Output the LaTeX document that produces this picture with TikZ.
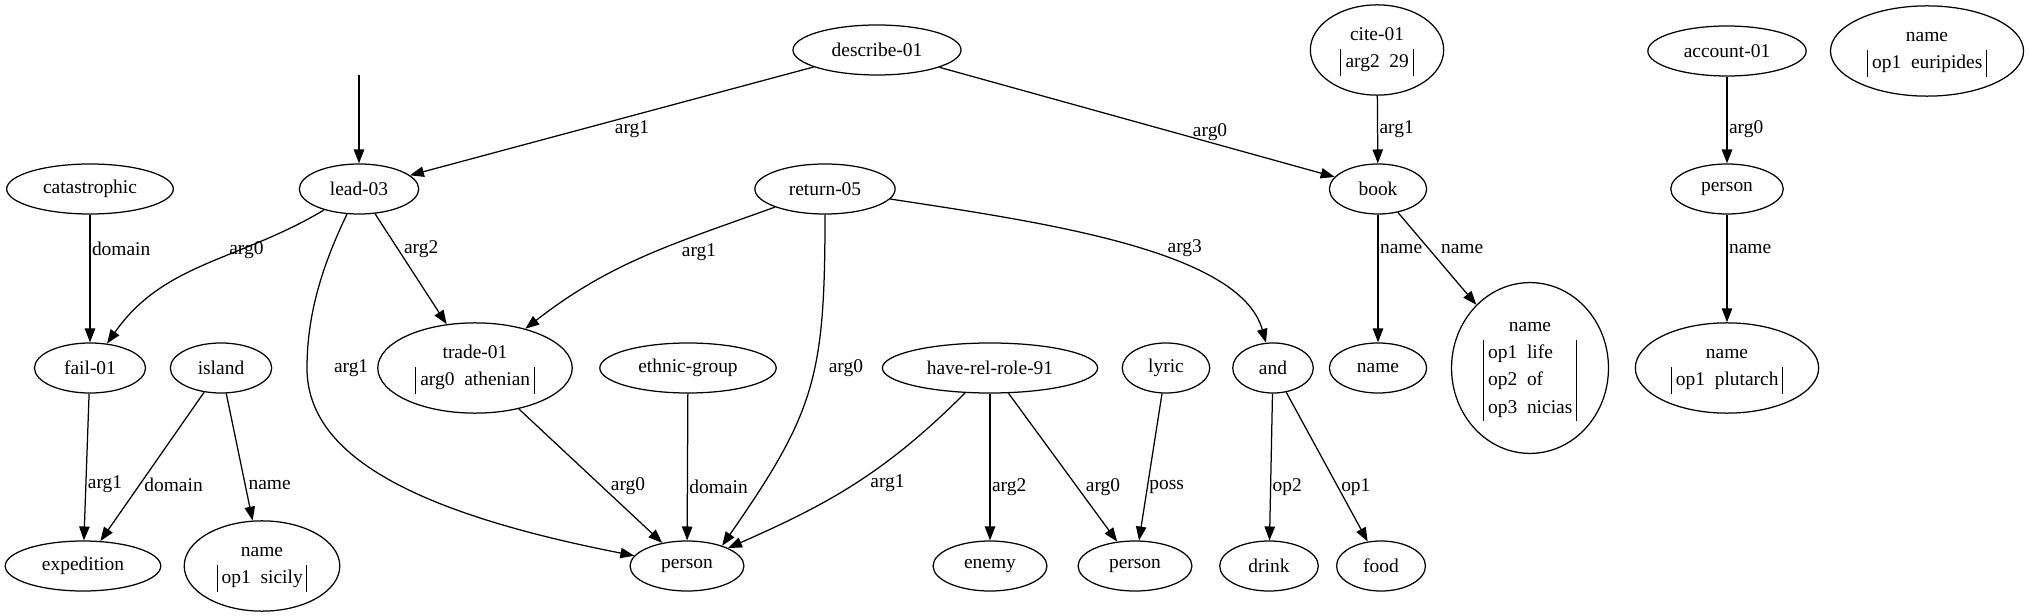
\documentclass[tikz,border=0pt]{standalone}
\usepackage{fontspec}
\setmainfont{Liberation Serif}
\usetikzlibrary{shapes.geometric, arrows.meta, positioning}
\renewcommand{\arraystretch}{1.15}
\setlength{\arrayrulewidth}{0.7pt}
\newcommand{\attrbox}[2]{\strut#1\\\begin{tabular}[t]{|@{\hspace{3pt}}l@{\hspace{7pt}}l@{\hspace{3pt}}|}#2\end{tabular}}

\begin{document}
\begin{tikzpicture}[
  x=0.72pt, y=-0.72pt,
  >={Triangle[length=10pt, width=7.5pt]},
  every node/.style={font=\fontsize{14}{17}\selectfont, align=center},
  concept/.style={draw, ellipse, line width=0.9pt, inner sep=0pt, minimum height=36pt},
  tall/.style={minimum height=65pt},
  rel/.style={->, line width=0.9pt},
  lbl/.style={inner sep=1pt}
]
\useasboundingbox (0,0) rectangle (2029,616);

% Top row
\node[concept, minimum width=121pt] (desc) at (877,50) {describe-01};
\node[concept, tall, minimum width=96pt] (cite) at (1377,50) {\attrbox{cite-01}{arg2 & 29}};
\node[concept, minimum width=114pt] (acct) at (1727,51) {account-01};
\node[concept, tall, minimum width=139pt] (eurip) at (1927,51) {\attrbox{name}{op1 & euripides}};
\coordinate (top) at (359,75);

% Second row
\node[concept, minimum width=120pt] (cata) at (90,189) {catastrophic};
\node[concept, minimum width=86pt] (lead) at (359,189) {lead-03};
\node[concept, minimum width=101pt] (ret) at (825,189) {return-05};
\node[concept, minimum width=70pt] (book) at (1378,189) {book};
\node[concept, minimum width=81pt] (pers) at (1727,189) {person};

% Third row
\node[concept, minimum width=80pt] (fail) at (90,368) {fail-01};
\node[concept, minimum width=73pt] (isl) at (221,368) {island};
\node[concept, tall, minimum width=140pt] (trade) at (475,368) {\attrbox{trade-01}{arg0 & athenian}};
\node[concept, minimum width=127pt] (ethn) at (688,368) {ethnic-group};
\node[concept, minimum width=155pt] (hrr) at (990,368) {have-rel-role-91};
\node[concept, minimum width=63pt] (lyric) at (1166,368) {lyric};
\node[concept, minimum width=58pt] (and) at (1273,368) {and};
\node[concept, minimum width=70pt] (nameb) at (1378,368) {name};
\node[concept, minimum width=113pt, minimum height=123pt] (nicias) at (1530,368) {\attrbox{name}{op1 & life\\ op2 & of\\ op3 & nicias}};
\node[concept, tall, minimum width=132pt] (plut) at (1727,368) {\attrbox{name}{op1 & plutarch}};

% Bottom row
\node[concept, minimum width=112pt] (exped) at (83,566) {expedition};
\node[concept, tall, minimum width=112pt] (sicily) at (262,566) {\attrbox{name}{op1 & sicily}};
\node[concept, minimum width=82pt] (pm) at (687,566) {person};
\node[concept, minimum width=82pt] (enemy) at (990,566) {enemy};
\node[concept, minimum width=82pt] (pl) at (1135,566) {person};
\node[concept, minimum width=71pt] (drink) at (1269,566) {drink};
\node[concept, minimum width=64pt] (food) at (1381,566) {food};

% Relations
\draw[rel] (top) -- (lead);
\draw[rel] (desc) -- node[lbl, pos=0.45, below, yshift=-2pt] (e01) {arg1} (lead);
\draw[rel] (desc) -- node[lbl, pos=0.685, above] (e02) {arg0} (book);
\draw[rel] (cite) -- node[lbl, pos=0.5, right] (e03) {arg1} (book);
\draw[rel] (acct) -- node[lbl, pos=0.6, right] (e04) {arg0} (pers);
\draw[rel] (pers) -- node[lbl, pos=0.32, right] (e05) {name} (plut);
\draw[rel] (cata) -- node[lbl, pos=0.27, right] (e06) {domain} (fail);
\draw[rel] (lead) .. controls (239,261) and (164,262) .. node[lbl, pos=0.4, anchor=west, yshift=4pt] (e07) {arg0} (fail);
\draw[rel] (lead) -- node[lbl, pos=0.32, right=3pt] (e08) {arg2} (trade);
\draw[rel] (lead) .. controls (325,260) and (307,310) .. (307,368) node[lbl, right=18pt] (e09) {arg1}
  .. controls (307,450) and (400,510) .. (pm);
\draw[rel] (ret) .. controls (673,244) and (611,262) .. node[lbl, pos=0.35, anchor=north west] (e10) {arg1} (trade);
\draw[rel] (ret) .. controls (825,377) and (815,412) .. node[lbl, pos=0.42, right=9pt] (e11) {arg0} (pm.30);
\draw[rel] (ret) .. controls (1040,222) and (1240,250) .. node[lbl, pos=0.6, anchor=south west] (e12) {arg3} (and);
\draw[rel] (trade) -- node[lbl, pos=0.58, right=5pt] (e13) {arg0} (pm);
\draw[rel] (ethn) -- node[lbl, pos=0.635, right] (e14) {domain} (pm);
\draw[rel] (hrr) .. controls (887,471) and (831,503) .. node[lbl, pos=0.5, right=9pt] (e15) {arg1} (pm);
\draw[rel] (hrr) -- node[lbl, pos=0.635, right] (e16) {arg2} (enemy);
\draw[rel] (hrr) -- node[lbl, pos=0.63, right=5pt] (e17) {arg0} (pl);
\draw[rel] (lyric) -- node[lbl, pos=0.635, right] (e18) {poss} (pl);
\draw[rel] (and) -- node[lbl, pos=0.635, right] (e19) {op2} (drink);
\draw[rel] (and) -- node[lbl, pos=0.634, right=1pt] (e20) {op1} (food);
\draw[rel] (book) -- node[lbl, pos=0.27, right] (e21) {name} (nameb);
\draw[rel] (book) -- node[lbl, pos=0.4, right=7pt] (e22) {name} (nicias);
\draw[rel] (fail) -- node[lbl, pos=0.62, right] (e23) {arg1} (exped);
\draw[rel] (isl) -- node[lbl, pos=0.622, right=2pt] (e24) {domain} (exped);
\draw[rel] (isl) -- node[lbl, pos=0.72, right=1pt] (e25) {name} (sicily);

\end{tikzpicture}
\end{document}
